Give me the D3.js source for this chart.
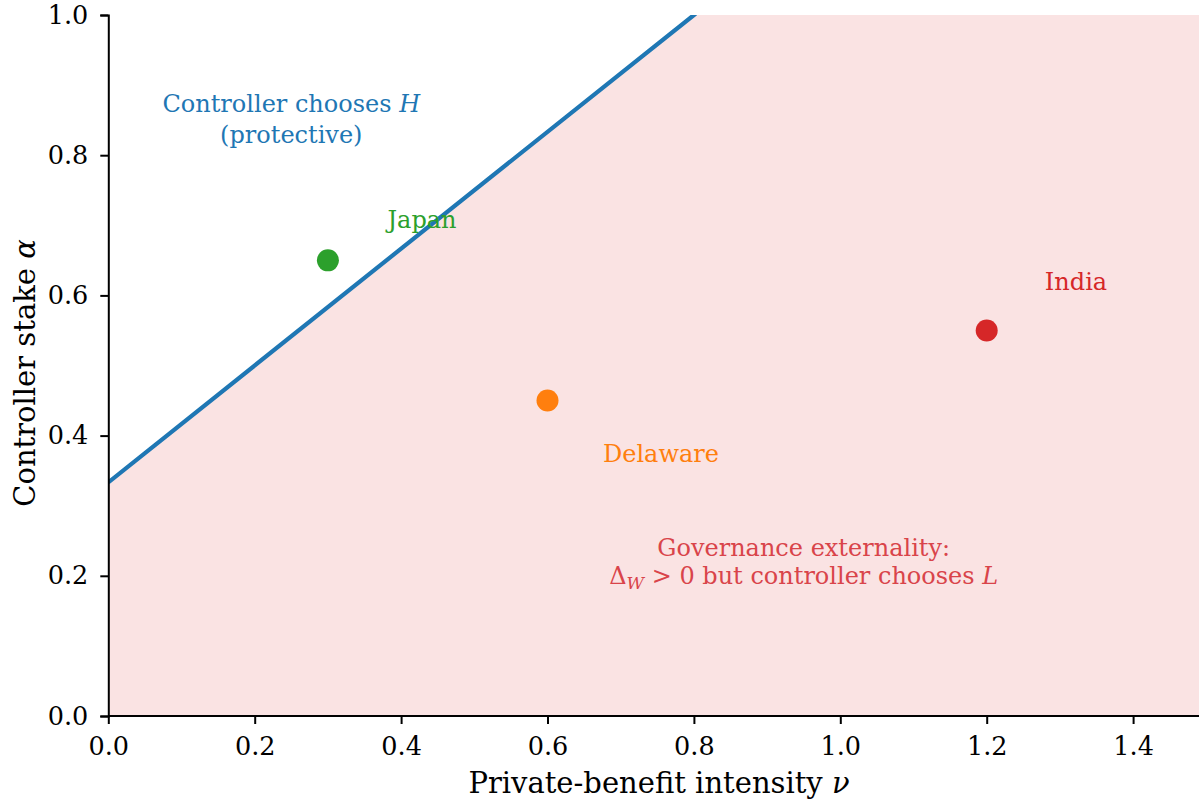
<!DOCTYPE html>
<html><head><meta charset="utf-8">
<script src="https://cdn.jsdelivr.net/npm/d3@7"></script>
<style>body{margin:0;background:#fff}svg{display:block}svg text{font-family:"DejaVu Serif",serif !important}</style>
</head><body>
<svg id="c" width="1199" height="804"></svg>
<script>
// Data
const xTicks = [0.0, 0.2, 0.4, 0.6, 0.8, 1.0, 1.2, 1.4];
const yTicks = [0.0, 0.2, 0.4, 0.6, 0.8, 1.0];
const boundaryNu = [0, 0.8, 1.5];
const boundaryAlpha = [1/3, 1.0, 1.5833];
const countries = ["Japan", "Delaware", "India"];
const countryNu = [0.3, 0.6, 1.2];
const countryAlpha = [0.65, 0.45, 0.55];
const countryColors = ["#2ca02c", "#ff7f0e", "#d62728"];
const labelDx = [0.1286, 0.155, 0.122];
const labelDy = [0.046, -0.088, 0.058];

const svg = d3.select("#c");
const L = 108.3, T = 15, B = 716;
const x = d3.scaleLinear().domain([0, 1.5]).range([L, L + 1.5 * 732]);
const y = d3.scaleLinear().domain([0, 1]).range([B, T]);

const defs = svg.append("defs");
defs.append("clipPath").attr("id", "plot").append("rect")
  .attr("x", L).attr("y", T).attr("width", 1199 - L).attr("height", B - T);
const g = svg.append("g").attr("clip-path", "url(#plot)");

const pts = boundaryNu.map((n, i) => [n, boundaryAlpha[i]]);
const area = d3.area().x(d => x(d[0])).y0(y(0)).y1(d => y(Math.min(d[1], 1)));
g.append("path").datum(pts).attr("d", area).attr("fill", "#d62728").attr("fill-opacity", 0.13);
g.append("path").datum(pts).attr("d", d3.line().x(d => x(d[0])).y(d => y(d[1])))
  .attr("fill", "none").attr("stroke", "#1f77b4").attr("stroke-width", 4.2);

countries.forEach((c, i) => {
  g.append("circle").attr("cx", x(countryNu[i])).attr("cy", y(countryAlpha[i])).attr("r", 11)
    .attr("fill", countryColors[i]);
});
countries.forEach((c, i) => {
  svg.append("text").attr("x", x(countryNu[i] + labelDx[i])).attr("y", y(countryAlpha[i] + labelDy[i]))
    .attr("text-anchor", "middle")
    .attr("font-size", 24).attr("fill", countryColors[i]).text(c);
});

// Region annotations
const ann1 = svg.append("text").attr("text-anchor", "middle").attr("font-size", 24).attr("fill", "#1f77b4");
ann1.append("tspan").attr("x", x(0.25)).attr("y", 112).text("Controller chooses ");
ann1.append("tspan").attr("font-style", "italic").text("H");
ann1.append("tspan").attr("x", x(0.25)).attr("y", 143).text("(protective)");

const ann2 = svg.append("text").attr("text-anchor", "middle").attr("font-size", 24).attr("fill", "#d9444a");
ann2.append("tspan").attr("x", x(0.95)).attr("y", 556).text("Governance externality:");
const l2 = ann2.append("tspan").attr("x", x(0.95)).attr("y", 584);
l2.append("tspan").text("Δ");
l2.append("tspan").attr("font-style", "italic").attr("font-size", 17).attr("dy", 5).text("W");
l2.append("tspan").attr("dy", -5).text(" > 0 but controller chooses ");
l2.append("tspan").attr("font-style", "italic").text("L");

// Axes
const xa = svg.append("g").attr("transform", `translate(0,${B})`)
  .call(d3.axisBottom(x).tickValues(xTicks).tickFormat(d3.format(".1f")).tickSizeOuter(0).tickSize(8).tickPadding(13));
const ya = svg.append("g").attr("transform", `translate(${L},0)`)
  .call(d3.axisLeft(y).tickValues(yTicks).tickFormat(d3.format(".1f")).tickSizeOuter(0).tickSize(8).tickPadding(12));
[xa, ya].forEach(a => {
  a.attr("font-family", null);
  a.select(".domain").attr("stroke", "#000").attr("stroke-width", 2);
  a.selectAll(".tick line").attr("stroke", "#000").attr("stroke-width", 2);
  a.selectAll(".tick text").attr("font-size", 25.5).attr("fill", "#000");
});
xa.select(".domain").attr("d", `M${L},0H1199`);

const xl = svg.append("text").attr("x", 659).attr("y", 793).attr("text-anchor", "middle").attr("font-size", 29).attr("fill", "#000");
xl.append("tspan").text("Private-benefit intensity ");
xl.append("tspan").attr("font-style", "italic").text("ν");
const yl = svg.append("text").attr("transform", "translate(35,373) rotate(-90)").attr("text-anchor", "middle").attr("font-size", 29).attr("fill", "#000");
yl.append("tspan").text("Controller stake ");
yl.append("tspan").attr("font-style", "italic").text("α");
</script>
</body></html>
